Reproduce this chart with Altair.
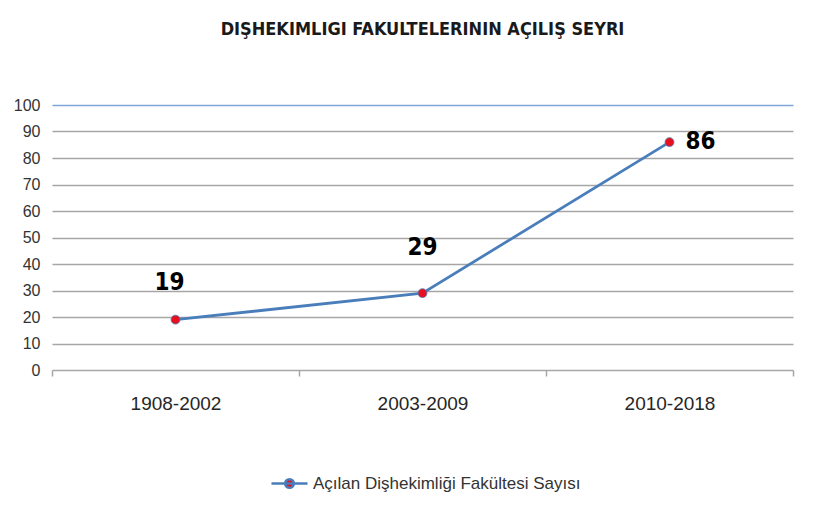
import altair as alt
import pandas as pd

categories = ["1908-2002", "2003-2009", "2010-2018"]
values = [19, 29, 86]
series_name = "Açılan Dişhekimliği Fakültesi Sayısı"
title_text = "DIŞHEKIMLIGI FAKULTELERININ AÇILIŞ SEYRI"

df = pd.DataFrame({"period": categories, "count": values, "series": series_name})

LINE = "#4a7ebb"
RED = "#e8101e"
GRID = "#a6a6a6"

x_enc = alt.X(
    "period:N",
    sort=categories,
    bandPosition=0.5,
    scale=alt.Scale(type="band", paddingInner=0, paddingOuter=0),
    axis=alt.Axis(
        title=None, labelAngle=0, labelFontSize=19, labelColor="#262626",
        labelFont="Liberation Sans", tickBand="extent", tickSize=6, tickColor=GRID,
        tickWidth=1.5, domain=False, labelPadding=18, grid=False,
    ),
)
y_enc = alt.Y(
    "count:Q",
    scale=alt.Scale(domain=[0, 100]),
    axis=alt.Axis(
        title=None, values=list(range(0, 101, 10)), labelFontSize=16,
        labelColor="#333333", labelFont="Liberation Sans", domain=False, ticks=False,
        labelPadding=12,
        gridColor={"condition": {"test": "datum.value === 100", "value": "#7fa6d8"}, "value": GRID},
        gridWidth=1.6,
    ),
)

base = alt.Chart(df)

line = base.mark_line(strokeWidth=2.8).encode(
    x=x_enc, y=y_enc,
    color=alt.Color(
        "series:N",
        scale=alt.Scale(domain=[series_name], range=[LINE]),
        legend=alt.Legend(
            title=None, orient="none", legendX=218, legendY=359,
            symbolType="M-1,0H1 M-0.24,0 A0.24,0.24 0 1,0 0.24,0 A0.24,0.24 0 1,0 -0.24,0",
            symbolSize=1300, symbolStrokeWidth=2.5, symbolFillColor=RED,
            labelFontSize=17, labelColor="#333333", labelFont="Liberation Sans",
            labelOffset=4, labelLimit=500,
        ),
    ),
)

points = base.mark_point(filled=True, size=80, color=RED, stroke=LINE, strokeWidth=0.8, opacity=1).encode(
    x=x_enc, y=y_enc
)

label_font = "Liberation Sans Narrow, DejaVu Sans Condensed"
def lbl(cat, dx, dy, align):
    return base.transform_filter(alt.datum.period == cat).mark_text(
        dx=dx, dy=dy, align=align, baseline="middle", fontSize=24, fontWeight="bold",
        font=label_font, color="#000000"
    ).encode(x=x_enc, y=y_enc, text="count:Q")

labels = lbl(categories[0], -6, -37, "center") + lbl(categories[1], 0, -45, "center") + lbl(categories[2], 16, 0, "left")

chart = alt.layer(line, points, labels).properties(
    width=741, height=265,
    title=alt.Title(title_text, fontSize=18, fontWeight="bold", font=label_font,
                    color="#1a1a1a", offset=58, anchor="middle"),
    autosize=alt.AutoSizeParams(type="none"),
    padding={"left": 44, "top": 97, "right": 20, "bottom": 138},
).configure_view(stroke=None)

chart.save("out.html", embed_options={"renderer": "svg", "actions": False})
